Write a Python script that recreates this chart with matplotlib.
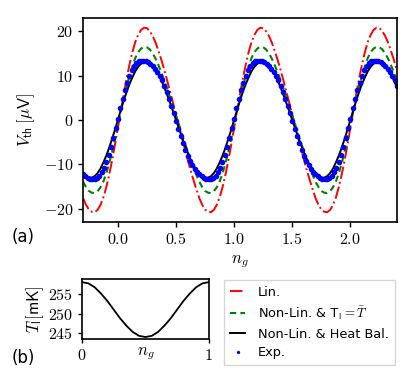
import numpy as np
import matplotlib
matplotlib.use("Agg")
import matplotlib.pyplot as plt

plt.rcParams["font.family"] = "serif"
plt.rcParams["font.serif"] = ["cmr10"]
plt.rcParams["mathtext.fontset"] = "cm"
plt.rcParams["axes.formatter.use_mathtext"] = True
plt.rcParams["axes.unicode_minus"] = True

# one period of V_th (uV), sampled every 0.025 in n_g
step = 0.025
v_lin = [-1.8, 2.0, 5.8, 9.3, 12.5, 15.3, 17.6, 19.2, 20.3, 20.8, 20.7, 20.0, 18.9, 17.4, 15.5, 13.5,
         11.2, 8.8, 6.3, 3.8, 1.2, -1.3, -3.9, -6.4, -8.9, -11.3, -13.5, -15.6, -17.6, -19.1, -20.2,
         -20.7, -20.8, -20.3, -19.2, -17.5, -15.2, -12.4, -9.2, -5.6]
v_nonlin = [-0.9, 2.0, 4.8, 7.5, 9.9, 12.1, 14.0, 15.3, 16.1, 16.5, 16.4, 15.9, 15.0, 13.8, 12.3, 10.7,
            8.9, 7.0, 5.0, 3.0, 1.0, -1.0, -3.1, -5.1, -7.1, -9.0, -10.7, -12.4, -13.9, -15.1, -16.0,
            -16.4, -16.5, -16.1, -15.2, -13.9, -12.1, -9.8, -7.3, -4.3]
v_heat = [0.0, 2.2, 4.3, 6.3, 8.1, 9.6, 11.0, 12.0, 12.7, 13.0, 13.1, 12.8, 12.2, 11.3, 10.2, 8.9,
          7.3, 5.6, 3.8, 1.9, 0.0, -1.9, -3.8, -5.6, -7.3, -8.9, -10.2, -11.3, -12.2, -12.8, -13.1,
          -13.0, -12.7, -12.0, -11.0, -9.6, -8.1, -6.3, -4.3, -2.2]
# experiment, one period sampled every 0.02 in n_g
step_exp = 0.02
v_exp = [0.3, 2.6, 4.7, 6.7, 8.4, 9.9, 11.2, 12.1, 12.8, 13.2, 13.4, 13.4, 13.3, 13.0, 12.6, 12.1,
         11.5, 10.8, 9.9, 8.9, 7.7, 6.3, 4.8, 3.2, 1.5, -0.3, -2.0, -3.7, -5.3, -6.8, -8.1, -9.2,
         -10.2, -11.0, -11.7, -12.3, -12.7, -13.1, -13.3, -13.4, -13.3, -13.1, -12.6, -11.8, -10.8,
         -9.5, -7.9, -6.1, -4.1, -1.9]

# island temperature (mK) over one period, every 0.05
ng_tl = np.arange(21) * 0.05
t_l = [258.0, 257.7, 256.7, 255.1, 253.2, 251.0, 248.8, 246.9, 245.3, 244.3, 244.0, 244.3, 245.3,
       246.9, 248.8, 251.0, 253.2, 255.1, 256.7, 257.7, 258.0]

labels = ["Lin.", r"Non-Lin. & $\mathsf{T}_\mathsf{l}=\bar{T}$", "Non-Lin. & Heat Bal.", "Exp."]

# repeat the periodic data over the plotted range -0.3 .. 2.4
k = np.arange(-12, 97)
ng = k * step
kk = np.arange(-15, 121)
ng_exp = kk * step_exp
lin = np.array(v_lin)[k % 40]
nonlin = np.array(v_nonlin)[k % 40]
heat = np.array(v_heat)[k % 40]
exp = np.array(v_exp)[kk % 50]

fig = plt.figure(figsize=(4.16, 3.82), dpi=100)
ax = fig.add_axes([0.1995, 0.419, 0.7545, 0.534])
ax.plot(ng, lin, color="red", ls="-.", lw=1.4, label=labels[0])
ax.plot(ng, nonlin, color="green", ls=(0, (3, 2)), lw=1.5, label=labels[1])
ax.plot(ng, heat, color="black", ls="-", lw=1.4, label=labels[2])
ax.plot(ng_exp, exp, ls="none", marker="o", ms=4, color="blue", mec="none", label=labels[3])
ax.set_xlim(-0.3, 2.4)
ax.set_ylim(-23, 23)
ax.set_xticks([0, 0.5, 1.0, 1.5, 2.0])
ax.set_yticks([-20, -10, 0, 10, 20])
ax.tick_params(labelsize=11.5, length=3.5, width=1)
ax.set_xlabel(r"$n_g$", fontsize=12, labelpad=5)
ax.set_ylabel(r"$V_{\mathsf{th}}\,[\mu\mathsf{V}]$", fontsize=12, labelpad=5)
for sp in ax.spines.values():
    sp.set_linewidth(1.2)

ax2 = fig.add_axes([0.197, 0.1126, 0.305, 0.157])
ax2.plot(ng_tl, t_l, color="black", lw=1.3)
ax2.set_xlim(0, 1)
ax2.set_ylim(243.5, 258.8)
ax2.set_xticks([0, 1])
ax2.set_yticks([245, 250, 255])
ax2.tick_params(labelsize=11.5, length=3, width=1)
ax2.set_xlabel(r"$n_g$", fontsize=12, labelpad=-13)
ax2.set_ylabel(r"$T_\mathsf{l}[\mathsf{mK}]$", fontsize=12, labelpad=1)
for sp in ax2.spines.values():
    sp.set_linewidth(1.2)

handles, lbls = ax.get_legend_handles_labels()
leg = fig.legend(handles, lbls, loc="upper left", bbox_to_anchor=(224 / 416, 1 - 280 / 382),
                 prop={"family": "DejaVu Sans", "size": 9.3}, handlelength=1.2, handletextpad=1.0,
                 labelspacing=0.45, borderpad=0.45, borderaxespad=0, fancybox=False,
                 edgecolor="#cccccc", markerscale=0.6)
leg.get_frame().set_linewidth(1.0)

fig.text(12 / 416, 1 - 237 / 382, "(a)", fontsize=12, family="DejaVu Sans", va="center")
fig.text(12 / 416, 1 - 358 / 382, "(b)", fontsize=12, family="DejaVu Sans", va="center")

fig.savefig("out.png", dpi=100)
